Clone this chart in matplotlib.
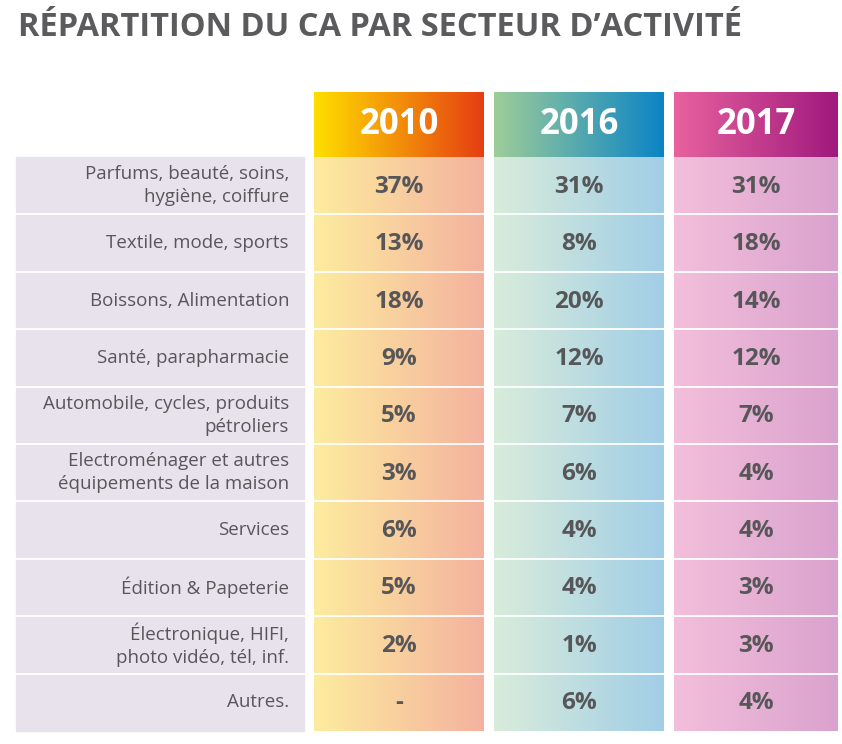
import numpy as np
import matplotlib
matplotlib.use('Agg')
import matplotlib.pyplot as plt
from matplotlib.colors import LinearSegmentedColormap, to_rgb

plt.rcParams['font.family'] = ['Open Sans', 'DejaVu Sans']

title = "RÉPARTITION DU CA PAR SECTEUR D’ACTIVITÉ"
years = ['2010', '2016', '2017']
sectors = [
    "Parfums, beauté, soins,\nhygiène, coiffure",
    "Textile, mode, sports",
    "Boissons, Alimentation",
    "Santé, parapharmacie",
    "Automobile, cycles, produits\npétroliers",
    "Electroménager et autres\néquipements de la maison",
    "Services",
    "Édition & Papeterie",
    "Électronique, HIFI,\nphoto vidéo, tél, inf.",
    "Autres.",
]
values_2010 = ['37%', '13%', '18%', '9%', '5%', '3%', '6%', '5%', '2%', '-']
values_2016 = ['31%', '8%', '20%', '12%', '7%', '6%', '4%', '4%', '1%', '6%']
values_2017 = ['31%', '18%', '14%', '12%', '7%', '4%', '4%', '3%', '3%', '4%']
values = [values_2010, values_2016, values_2017]

# couleurs des dégradés : en-tête (gauche, droite), corps (gauche, droite)
header_grad = [('#FFDF00', '#E63E12'), ('#9ECD99', '#0B84C5'), ('#E8629F', '#A0197D')]
body_grad = [('#FDEC9F', '#F4B29E'), ('#D9ECDB', '#A1CEE6'), ('#F3BFDB', '#DAA2CE')]

W, H = 842, 744
fig = plt.figure(figsize=(W / 100, H / 100), dpi=100)
ax = fig.add_axes([0, 0, 1, 1])
ax.set_xlim(0, W)
ax.set_ylim(H, 0)
ax.axis('off')

text_col = '#57575A'
col_x = [(314, 484), (494, 664), (674, 838)]
lab_x = (16, 304)
head_y = (92, 157)
body_y = (157, 731)
n = len(sectors)
row_h = (body_y[1] - body_y[0]) / n


def gradient(x0, x1, y0, y1, c0, c1):
    cmap = LinearSegmentedColormap.from_list('g', [to_rgb(c0), to_rgb(c1)])
    grad = np.linspace(0, 1, 256).reshape(1, -1)
    ax.imshow(grad, cmap=cmap, extent=(x0, x1, y1, y0), aspect='auto',
              interpolation='bicubic', zorder=1)


ax.text(18, 27, title, fontsize=23.5, fontweight='bold', color='#5B5B5D',
        ha='left', va='center')

# colonne des libellés
ax.add_patch(plt.Rectangle((lab_x[0], body_y[0]), lab_x[1] - lab_x[0],
                           body_y[1] - body_y[0], color='#E8E2EC', zorder=1))

for j, (x0, x1) in enumerate(col_x):
    gradient(x0, x1, head_y[0], head_y[1], *header_grad[j])
    gradient(x0, x1, body_y[0], body_y[1], *body_grad[j])
    ax.text((x0 + x1) / 2, (head_y[0] + head_y[1]) / 2 + 1, years[j],
            fontsize=25, fontweight='bold', color='white',
            ha='center', va='center', zorder=3)

for i, label in enumerate(sectors):
    yc = body_y[0] + (i + 0.5) * row_h
    ax.text(lab_x[1] - 15, yc, label, fontsize=13.5, color=text_col,
            ha='right', va='center', linespacing=1.35, zorder=3)
    for j, (x0, x1) in enumerate(col_x):
        ax.text((x0 + x1) / 2, yc + 1, values[j][i], fontsize=17.5,
                fontweight='bold', color=text_col, ha='center', va='center', zorder=3)
    if i > 0:
        yb = body_y[0] + i * row_h
        ax.plot([lab_x[0], col_x[-1][1]], [yb, yb], color='white', lw=1.3, zorder=2)

fig.savefig('out.png', dpi=100)
